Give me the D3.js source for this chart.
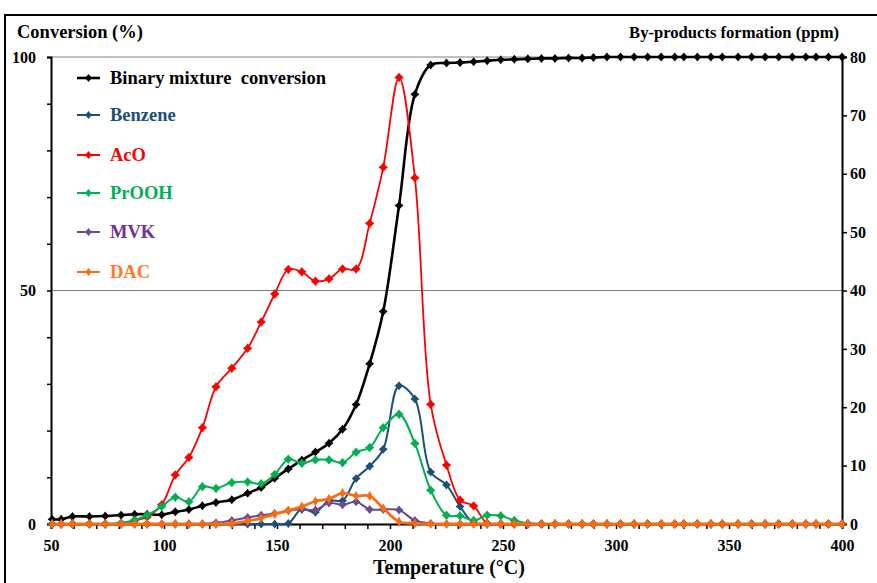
<!DOCTYPE html>
<html><head><meta charset="utf-8">
<script src="https://cdn.jsdelivr.net/npm/d3@7"></script>
<style>body{margin:0;background:#fff}svg{display:block}text{font-family:"Liberation Serif","Times New Roman",serif;font-weight:bold}</style>
</head><body><svg id="c" width="877" height="583"></svg>
<script>
const temps=[50.5,54.5,59.5,67,74,81,87,92.5,99,105,111,117,123,130,137,143,149,155,161,167,173,179,185,191,197,204,211,218,225,231,237,243,249,255,261,267,273,279,285,290,296,302,308,314,320,326,330,336,342,347,354,360,366,372,378,384,388.5,394,400];
const conversion=[1.0,1.0,1.6,1.6,1.7,1.9,2.1,2.1,2.0,2.6,3.1,3.9,4.6,5.2,6.6,7.8,9.8,11.8,13.7,15.4,17.3,20.3,25.6,34.3,45.5,68.2,92.0,98.3,98.7,98.8,99.0,99.2,99.4,99.5,99.6,99.7,99.7,99.8,99.8,99.9,100,100,100,100,100,100,100,100,100,100,100,100,100,100,100,100,100,100,100];
const benzene=[0,0,0,0,0,0,0,0,0,0,0,0,0,0,0,0,0,0.1,2.6,2.0,4.0,4.0,7.8,9.9,12.8,23.7,21.4,8.9,6.7,3.0,0.2,0,0,0,0,0,0,0,0,0,0,0,0,0,0,0,0,0,0,0,0,0,0,0,0,0,0,0,0];
const aco=[0,0,0,0,0,0,0.6,1.2,3.3,8.4,11.4,16.5,23.5,26.7,30.1,34.6,39.4,43.6,43.2,41.6,42.0,43.7,43.7,51.5,61.1,76.5,59.3,20.5,10.1,4.1,3.1,0.1,0,0,0,0,0,0,0,0,0,0,0,0,0,0,0,0,0,0,0,0,0,0,0,0,0,0,0];
const prooh=[0,0,0,0,0,0.2,0.7,1.5,3.0,4.6,3.8,6.4,6.1,7.1,7.2,6.9,8.5,11.1,10.4,11.0,11.0,10.5,12.3,13.1,16.5,18.8,13.8,5.8,1.5,1.4,0.6,1.5,1.4,0.6,0.1,0,0,0,0,0,0,0,0,0,0,0,0,0,0,0,0,0,0,0,0,0,0,0,0];
const mvk=[0,0,0,0,0,0,0,0,0,0,0,0,0.2,0.6,1.1,1.5,1.8,2.3,2.5,2.4,3.6,3.3,3.8,2.5,2.5,2.4,0.6,0.1,0,0,0,0,0,0,0,0,0,0,0,0,0,0,0,0,0,0,0,0,0,0,0,0,0,0,0,0,0,0,0];
const dac=[0,0,0,0,0,0,0,0,0,0,0,0,0,0.1,0.5,1.0,1.7,2.3,3.0,3.9,4.3,5.3,4.8,4.8,2.7,0.4,0.1,0,0,0,0,0,0,0,0,0,0,0,0,0,0,0,0,0,0,0,0,0,0,0,0,0,0,0,0,0,0,0,0];
const seriesNames=["Binary mixture  conversion","Benzene","AcO","PrOOH","MVK","DAC"];
const lineColors=["#000000","#1f4e79","#ff0000","#00b050","#6a4a8c","#ff6a10"];
const labelColors=["#000000","#1f4e79","#ff0000","#00b050","#7030a0","#ff7a2a"];
const xTicks=[50,100,150,200,250,300,350,400];
const leftTicks=[0,50,100];
const rightTicks=[0,10,20,30,40,50,60,70,80];

const svg=d3.select("#c");
const L=51,R=842,T=57,B=524;
const x=d3.scaleLinear().domain([50,400]).range([L,R]);
const yL=d3.scaleLinear().domain([0,100]).range([B,T]);
const yR=d3.scaleLinear().domain([0,80]).range([B,T]);

// frame
svg.append("rect").attr("x",5).attr("y",15).attr("width",900).attr("height",600).attr("fill","none").attr("stroke","#000").attr("stroke-width",2);

// gridlines
svg.append("g").selectAll("line").data([50,100]).join("line")
 .attr("x1",L).attr("x2",R).attr("y1",d=>yL(d)).attr("y2",d=>yL(d)).attr("stroke","#808080").attr("stroke-width",1);

// axes
const ax=svg.append("g").attr("transform",`translate(0,${B})`).call(d3.axisBottom(x).tickValues(d3.range(50,401,10)).tickSize(5).tickFormat(d=>xTicks.includes(d)?d:""));
const axl=svg.append("g").attr("transform",`translate(${L},0)`).call(d3.axisLeft(yL).tickValues(d3.range(0,101,10)).tickSize(4).tickFormat(d=>leftTicks.includes(d)?d:""));
const axr=svg.append("g").attr("transform",`translate(${R},0)`).call(d3.axisRight(yR).tickValues(rightTicks).tickSize(5));
[ax,axl,axr].forEach(g=>{g.select(".domain").attr("stroke","#000").attr("stroke-width",2);g.selectAll(".tick line").attr("stroke","#000").attr("stroke-width",1.5);g.selectAll("text").attr("font-family","Liberation Serif").attr("font-weight","bold").attr("font-size",16).attr("fill","#000");});
ax.selectAll("text").attr("dy","1.2em");
axl.selectAll("text").attr("x",-15);
axr.selectAll("text").attr("x",8);

// titles
svg.append("text").attr("x",17).attr("y",38).attr("font-size",18.5).text("Conversion  (%)");
svg.append("text").attr("x",839).attr("y",38).attr("text-anchor","end").attr("font-size",16.6).text("By-products formation (ppm)");
svg.append("text").attr("x",449).attr("y",574).attr("text-anchor","middle").attr("font-size",20).text("Temperature  (°C)");

const data=[conversion,benzene,aco,prooh,mvk,dac];
const widths=[2.6,2,1.8,2,2,2.8];
const msize=[18,18,20,20,18,30];
const star=(s)=>{const r=Math.sqrt(s)/1.4;const w=r*0.45;return `M0,${-r}L${w},${-w}L${r},0L${w},${w}L0,${r}L${-w},${w}L${-r},0L${-w},${-w}Z`;};
data.forEach((vals,i)=>{
  const yy=i===0?yL:yR;
  const pts=temps.map((t,j)=>[t,vals[j]]);
  const line=d3.line().x(d=>x(d[0])).y(d=>yy(d[1])).curve(d3.curveCatmullRom.alpha(0.5));
  const g=svg.append("g");
  g.append("path").attr("d",line(pts)).attr("fill","none").attr("stroke",lineColors[i]).attr("stroke-width",widths[i]);
  g.selectAll("path.m").data(pts).join("path").attr("class","m")
   .attr("transform",d=>`translate(${x(d[0])},${yy(d[1])})`)
   .attr("d",i===5?d3.symbol(d3.symbolDiamond,msize[i])():star(msize[i]*2.2)).attr("fill",lineColors[i]);
});

// legend
const legY=[78,115,155,193,232,272];
const lg=svg.append("g");
seriesNames.forEach((n,i)=>{
  lg.append("line").attr("x1",77).attr("x2",100).attr("y1",legY[i]).attr("y2",legY[i]).attr("stroke",lineColors[i]).attr("stroke-width",i===0?2.6:2);
  lg.append("path").attr("transform",`translate(88.5,${legY[i]})`).attr("d",star(30)).attr("fill",lineColors[i]);
  lg.append("text").attr("x",110).attr("y",legY[i]+6).attr("font-size",18.5).attr("fill",labelColors[i]).style("white-space","pre").text(n);
});
</script></body></html>
